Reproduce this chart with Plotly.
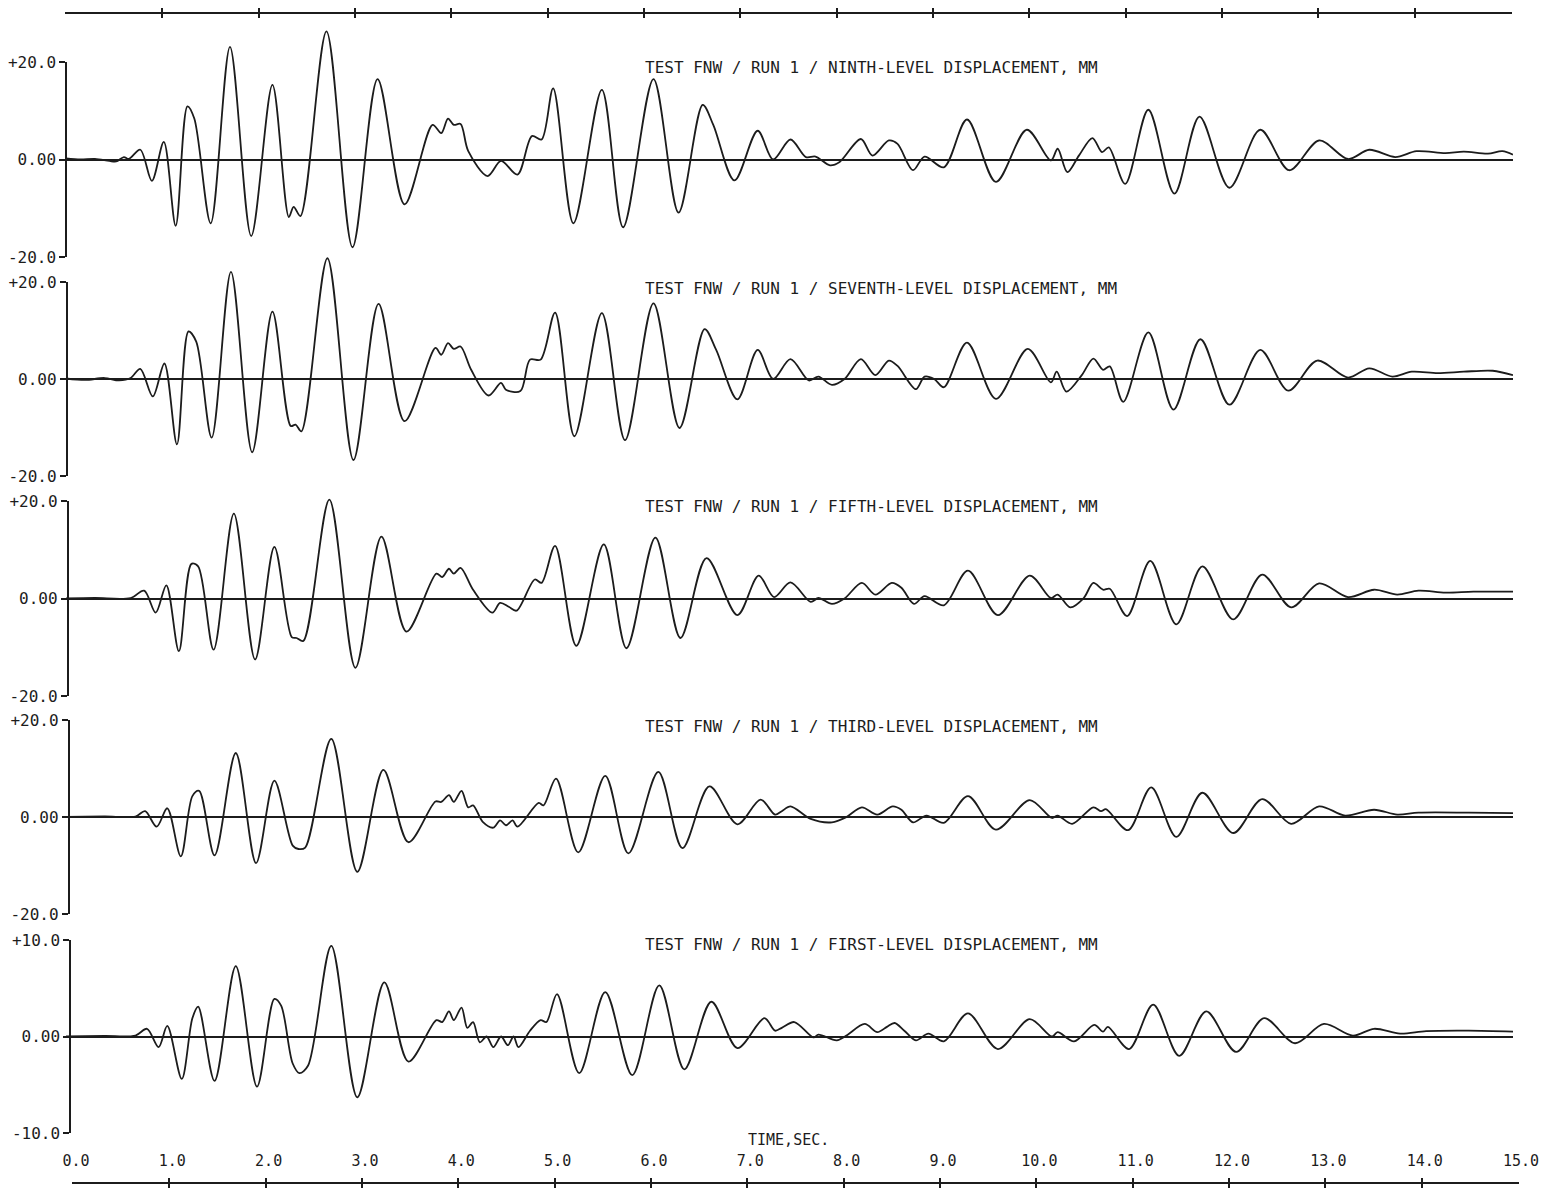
import plotly.graph_objects as go

# ---------------- data (time in s, displacement in mm) ----------------
ninth_level = [(0, 0.2), (0.15, 0.0), (0.3, 0.1), (0.45, -0.3), (0.52, -0.4), (0.6, 0.5), (0.65, 0.1),
               (0.77, 2.0), (0.89, -4.4), (1.014, 3.6), (1.137, -13.6), (1.259, 10.9), (1.33, 8.4),
               (1.50, -13.1), (1.70, 23.1), (1.92, -15.7), (2.14, 15.3), (2.31, -11.8), (2.36, -9.7),
               (2.43, -11.6), (2.70, 26.3), (2.97, -18.0), (3.23, 16.5), (3.51, -9.2), (3.80, 7.1),
               (3.89, 5.4), (3.96, 8.4), (4.02, 7.1), (4.09, 7.3), (4.17, 1.7), (4.37, -3.4), (4.51, -0.3),
               (4.68, -3.1), (4.83, 4.8), (4.93, 4.1), (5.05, 14.6), (5.26, -13.1), (5.555, 14.3),
               (5.775, -13.9), (6.09, 16.5), (6.35, -10.9), (6.60, 11.2), (6.71, 7.1), (6.93, -4.3),
               (7.17, 5.9), (7.33, 0.0), (7.51, 4.1), (7.67, 0.5), (7.77, 0.6), (7.92, -1.2), (8.02, -0.5),
               (8.24, 4.2), (8.36, 0.8), (8.53, 3.9), (8.62, 3.2), (8.78, -2.2), (8.90, 0.6), (9.10, -1.6),
               (9.34, 8.2), (9.64, -4.6), (9.96, 6.1), (10.21, -0.2), (10.28, 2.2), (10.38, -2.6),
               (10.50, 0.8), (10.64, 4.4), (10.74, 1.5), (10.81, 2.5), (10.98, -5.0), (11.22, 10.2),
               (11.49, -7.0), (11.75, 8.8), (12.06, -5.8), (12.38, 6.1), (12.68, -2.2), (12.99, 3.9),
               (13.29, 0.1), (13.51, 2.0), (13.78, 0.5), (14.00, 1.7), (14.30, 1.3), (14.49, 1.6),
               (14.74, 1.2), (14.89, 1.7), (15.0, 1.0)]

seventh_level = [(0, 0.1), (0.2, -0.2), (0.4, 0.2), (0.55, -0.3), (0.67, 0.2), (0.77, 2.1), (0.90, -3.6),
                 (1.02, 3.2), (1.15, -13.5), (1.27, 9.8), (1.35, 7.7), (1.51, -12.1), (1.71, 22.1),
                 (1.93, -15.1), (2.14, 13.9), (2.33, -9.7), (2.38, -9.4), (2.44, -10.8), (2.71, 24.9),
                 (2.98, -16.7), (3.24, 15.5), (3.51, -8.7), (3.83, 6.4), (3.89, 5.0), (3.96, 7.4),
                 (4.02, 6.2), (4.09, 6.7), (4.20, 1.9), (4.38, -3.4), (4.51, -0.8), (4.56, -2.2),
                 (4.71, -2.5), (4.81, 4.0), (4.92, 4.0), (5.07, 13.7), (5.27, -11.8), (5.555, 13.6),
                 (5.795, -12.6), (6.09, 15.6), (6.36, -10.1), (6.62, 10.3), (6.74, 6.0), (6.96, -4.2),
                 (7.17, 6.0), (7.33, 0.0), (7.51, 4.1), (7.70, -0.3), (7.80, 0.5), (7.94, -1.2), (8.07, 0.0),
                 (8.24, 4.1), (8.39, 0.8), (8.53, 3.8), (8.62, 2.7), (8.81, -2.1), (8.90, 0.5), (9.00, 0.0),
                 (9.10, -1.7), (9.34, 7.5), (9.64, -4.1), (9.97, 6.2), (10.21, -0.7), (10.27, 1.5),
                 (10.37, -2.6), (10.53, 0.8), (10.65, 4.2), (10.75, 1.9), (10.82, 2.6), (10.96, -4.7),
                 (11.22, 9.6), (11.48, -6.3), (11.76, 8.2), (12.06, -5.3), (12.38, 6.0), (12.67, -2.4),
                 (12.97, 3.8), (13.29, 0.3), (13.51, 2.2), (13.75, 0.5), (13.95, 1.5), (14.22, 1.2),
                 (14.49, 1.5), (14.79, 1.7), (15.0, 0.8)]

fifth_level = [(0, 0.0), (0.3, 0.1), (0.67, 0.1), (0.81, 1.6), (0.93, -2.9), (1.04, 2.7), (1.17, -10.8),
               (1.30, 7.1), (1.37, 6.6), (1.53, -10.5), (1.74, 17.4), (1.96, -12.5), (2.16, 10.6),
               (2.34, -7.9), (2.39, -8.1), (2.46, -8.7), (2.73, 20.3), (3.00, -14.2), (3.27, 12.7),
               (3.53, -6.8), (3.84, 5.1), (3.90, 4.4), (3.97, 6.1), (4.02, 5.1), (4.09, 6.3), (4.22, 1.8),
               (4.42, -2.9), (4.50, -0.9), (4.59, -1.7), (4.67, -2.5), (4.86, 3.9), (4.93, 3.2),
               (5.07, 10.8), (5.29, -9.7), (5.575, 11.1), (5.81, -10.2), (6.11, 12.5), (6.37, -8.1),
               (6.64, 8.3), (6.96, -3.4), (7.18, 4.7), (7.34, 0.3), (7.51, 3.3), (7.72, -0.7), (7.80, 0.1),
               (7.94, -1.1), (8.07, 0.0), (8.25, 3.2), (8.39, 0.8), (8.56, 3.2), (8.66, 2.2), (8.79, -1.1),
               (8.90, 0.5), (9.10, -1.4), (9.35, 5.7), (9.66, -3.4), (9.99, 4.7), (10.21, 0.1),
               (10.28, 0.8), (10.41, -1.8), (10.55, 0.1), (10.65, 3.2), (10.75, 1.8), (10.82, 2.0),
               (11.00, -3.6), (11.24, 7.7), (11.51, -5.3), (11.78, 6.6), (12.10, -4.3), (12.40, 4.9),
               (12.70, -1.8), (12.99, 3.1), (13.29, 0.3), (13.56, 1.8), (13.80, 0.8), (14.02, 1.6),
               (14.30, 1.2), (14.59, 1.4), (15.0, 1.4)]

third_level = [(0, 0.0), (0.4, 0.1), (0.72, 0.1), (0.82, 1.2), (0.94, -2.0), (1.05, 1.8), (1.19, -8.1),
               (1.31, 4.3), (1.38, 5.4), (1.54, -7.9), (1.76, 13.2), (1.97, -9.5), (2.16, 7.5),
               (2.35, -5.9), (2.41, -6.6), (2.48, -6.3), (2.75, 16.1), (3.02, -11.3), (3.29, 9.7),
               (3.55, -5.2), (3.83, 3.2), (3.89, 3.1), (3.97, 4.5), (4.02, 3.1), (4.10, 5.4), (4.17, 2.0),
               (4.22, 2.4), (4.32, -1.0), (4.43, -2.2), (4.50, -0.7), (4.56, -1.7), (4.63, -0.7),
               (4.68, -2.0), (4.90, 2.9), (4.95, 2.4), (5.08, 7.9), (5.31, -7.3), (5.59, 8.5),
               (5.83, -7.5), (6.14, 9.3), (6.39, -6.4), (6.67, 6.3), (6.96, -1.5), (7.20, 3.6),
               (7.35, 0.5), (7.42, 1.2), (7.51, 2.2), (7.72, -0.4), (7.94, -1.1), (8.09, 0.0), (8.25, 2.0),
               (8.41, 0.5), (8.57, 2.2), (8.66, 1.5), (8.78, -1.1), (8.92, 0.3), (9.10, -1.2), (9.35, 4.3),
               (9.64, -2.6), (9.99, 3.5), (10.22, -0.2), (10.28, 0.3), (10.43, -1.4), (10.65, 2.0),
               (10.73, 1.2), (10.78, 1.6), (11.01, -2.7), (11.25, 6.1), (11.51, -4.1), (11.78, 5.0),
               (12.10, -3.3), (12.40, 3.7), (12.70, -1.4), (12.99, 2.2), (13.26, 0.3), (13.56, 1.5),
               (13.80, 0.5), (14.02, 0.9), (14.54, 0.9), (15.0, 0.8)]

first_level = [(0, 0.0), (0.4, 0.05), (0.72, 0.1), (0.84, 0.8), (0.96, -1.1), (1.05, 1.1), (1.20, -4.4),
               (1.31, 1.9), (1.37, 3.1), (1.54, -4.6), (1.76, 7.3), (1.98, -5.2), (2.16, 3.9), (2.23, 3.2),
               (2.35, -2.8), (2.42, -3.8), (2.51, -3.0), (2.75, 9.4), (3.02, -6.3), (3.30, 5.6),
               (3.55, -2.6), (3.84, 1.7), (3.90, 1.5), (3.97, 2.6), (4.02, 1.7), (4.10, 3.0), (4.16, 0.9),
               (4.22, 1.5), (4.29, -0.6), (4.36, 0.0), (4.43, -1.1), (4.51, 0.0), (4.58, -0.9), (4.64, 0.0),
               (4.69, -1.1), (4.81, 0.6), (4.92, 1.7), (4.98, 1.5), (5.09, 4.4), (5.32, -3.8), (5.59, 4.6),
               (5.87, -4.0), (6.15, 5.3), (6.41, -3.4), (6.69, 3.6), (6.96, -1.2), (7.24, 1.9), (7.35, 0.6),
               (7.42, 0.9), (7.55, 1.5), (7.75, -0.1), (7.80, 0.2), (7.99, -0.4), (8.09, 0.1), (8.28, 1.3),
               (8.41, 0.45), (8.51, 1.0), (8.59, 1.4), (8.69, 0.6), (8.81, -0.4), (8.94, 0.3), (9.10, -0.5),
               (9.35, 2.4), (9.66, -1.3), (9.99, 1.8), (10.22, 0.0), (10.28, 0.45), (10.45, -0.5),
               (10.66, 1.2), (10.75, 0.5), (10.80, 1.0), (11.02, -1.3), (11.27, 3.3), (11.54, -2.0),
               (11.82, 2.6), (12.13, -1.6), (12.42, 1.9), (12.74, -0.7), (13.04, 1.3), (13.34, 0.1),
               (13.56, 0.8), (13.83, 0.3), (14.10, 0.55), (14.54, 0.6), (15.0, 0.5)]

panel_titles = ["TEST FNW / RUN 1 / NINTH-LEVEL DISPLACEMENT, MM",
                "TEST FNW / RUN 1 / SEVENTH-LEVEL DISPLACEMENT, MM",
                "TEST FNW / RUN 1 / FIFTH-LEVEL DISPLACEMENT, MM",
                "TEST FNW / RUN 1 / THIRD-LEVEL DISPLACEMENT, MM",
                "TEST FNW / RUN 1 / FIRST-LEVEL DISPLACEMENT, MM"]
panel_limits = [20, 20, 20, 20, 10]
panel_ticktext = [["-20.0", "0.00", "+20.0"]] * 4 + [["-10.0", "0.00", "+10.0"]]
time_ticks = list(range(0, 16))
time_ticktext = [f"{v:.1f}" for v in time_ticks]
x_title = "TIME,SEC."

series = [ninth_level, seventh_level, fifth_level, third_level, first_level]

# ---------------- layout geometry (pixels) ----------------
W, H = 1549, 1188
ML, MR = 60, 25
PW = W - ML - MR
INK = "#1c1c1c"
FONT = "DejaVu Sans Mono"
EPS = 0.01  # tiny range padding so the end ticks of the time axes are drawn

def px(X):
    return (X - ML) / PW

def py(Y):
    return 1 - Y / H

tick_top_px = [62, 282, 501, 720, 940]
tick_bot_px = [257, 476, 696, 914, 1133]
axis_x_px = [66, 66.5, 67.5, 68.5, 70]
title_y_px = [68, 288, 507, 726, 944]
HALF = 135

fig = go.Figure()
layout = dict(
    width=W, height=H,
    margin=dict(l=ML, r=MR, t=0, b=0, autoexpand=False),
    paper_bgcolor="white", plot_bgcolor="rgba(0,0,0,0)",
    showlegend=False,
    xaxis=dict(domain=[px(66), px(1513)], range=[0, 15], visible=False, anchor="y",
               fixedrange=True, automargin=False),
)

annotations = []
for i, (pts, lim) in enumerate(zip(series, panel_limits)):
    k = i + 1
    yt, yb = tick_top_px[i], tick_bot_px[i]
    y0 = (yt + yb) / 2
    ppu = (yb - yt) / (2 * lim)
    r = HALF / ppu
    tt = [p[0] for p in pts]
    vv = [p[1] for p in pts]
    data_ax = f"y{k}"
    lab_ax = f"y{k + 5}"
    layout[f"yaxis{k}" if k > 1 else "yaxis"] = dict(
        domain=[py(y0 + HALF), py(y0 - HALF)], range=[-r, r], anchor="x",
        showticklabels=False, ticks="", showgrid=False, showline=False, automargin=False,
        zeroline=True, zerolinecolor=INK, zerolinewidth=1.5, fixedrange=True)
    layout[f"yaxis{k + 5}"] = dict(
        domain=[py(yb), py(yt)], range=[-lim, lim], anchor="free", position=px(axis_x_px[i]),
        side="left", showline=True, linecolor=INK, linewidth=1.5, automargin=False,
        ticks="outside", ticklen=6, tickwidth=1.5, tickcolor=INK,
        tickvals=[-lim, 0, lim], ticktext=panel_ticktext[i],
        tickfont=dict(family=FONT, size=16, color=INK),
        showgrid=False, zeroline=False, fixedrange=True)
    fig.add_trace(go.Scatter(x=tt, y=vv, mode="lines", xaxis="x", yaxis=data_ax,
                             line=dict(color=INK, width=1.8, shape="spline", smoothing=0.9),
                             hoverinfo="skip"))
    fig.add_trace(go.Scatter(x=[], y=[], mode="lines", xaxis="x", yaxis=lab_ax, hoverinfo="skip"))
    annotations.append(dict(text=panel_titles[i], xref="paper", yref="paper",
                            x=px(643), y=py(title_y_px[i]), xanchor="left", yanchor="middle",
                            showarrow=False, font=dict(family=FONT, size=16, color=INK)))

# top time axis (cross ticks via grid lines on a thin strip)
layout["xaxis2"] = dict(domain=[px(65), px(1512)], range=[-EPS, 15 + EPS], anchor="y11",
                        tickvals=time_ticks, showticklabels=False, ticks="", automargin=False,
                        showgrid=True, gridcolor=INK, gridwidth=1.5,
                        zeroline=False, showline=False, fixedrange=True)
layout["yaxis11"] = dict(domain=[py(18), py(8)], range=[-1, 1], anchor="x2", automargin=False,
                         showticklabels=False, ticks="", showgrid=False, showline=False,
                         zeroline=True, zerolinecolor=INK, zerolinewidth=1.5, fixedrange=True)
fig.add_trace(go.Scatter(x=[], y=[], xaxis="x2", yaxis="y11", hoverinfo="skip"))

# bottom time axis with labels
layout["xaxis3"] = dict(domain=[px(72), px(1519)], range=[-EPS, 15 + EPS], anchor="y12", side="top",
                        tickvals=time_ticks, ticktext=time_ticktext, showticklabels=True,
                        ticks="outside", ticklen=5, tickcolor="rgba(0,0,0,0)", ticklabelshift=3,
                        tickfont=dict(family=FONT, size=15, color=INK), automargin=False,
                        showgrid=True, gridcolor=INK, gridwidth=1.5,
                        zeroline=False, showline=False, fixedrange=True)
layout["yaxis12"] = dict(domain=[py(1188), py(1178)], range=[-1, 1], anchor="x3", automargin=False,
                         showticklabels=False, ticks="", showgrid=False, showline=False,
                         zeroline=True, zerolinecolor=INK, zerolinewidth=1.5, fixedrange=True)
fig.add_trace(go.Scatter(x=[], y=[], xaxis="x3", yaxis="y12", hoverinfo="skip"))

annotations.append(dict(text=x_title, xref="paper", yref="paper", x=px(788), y=py(1140),
                        xanchor="center", yanchor="middle", showarrow=False,
                        font=dict(family=FONT, size=15, color=INK)))
layout["annotations"] = annotations

fig.update_layout(**layout)
fig.write_html("out.html", config={"displayModeBar": False},
               post_script="document.body.style.margin='0';document.body.style.overflow='hidden';")
